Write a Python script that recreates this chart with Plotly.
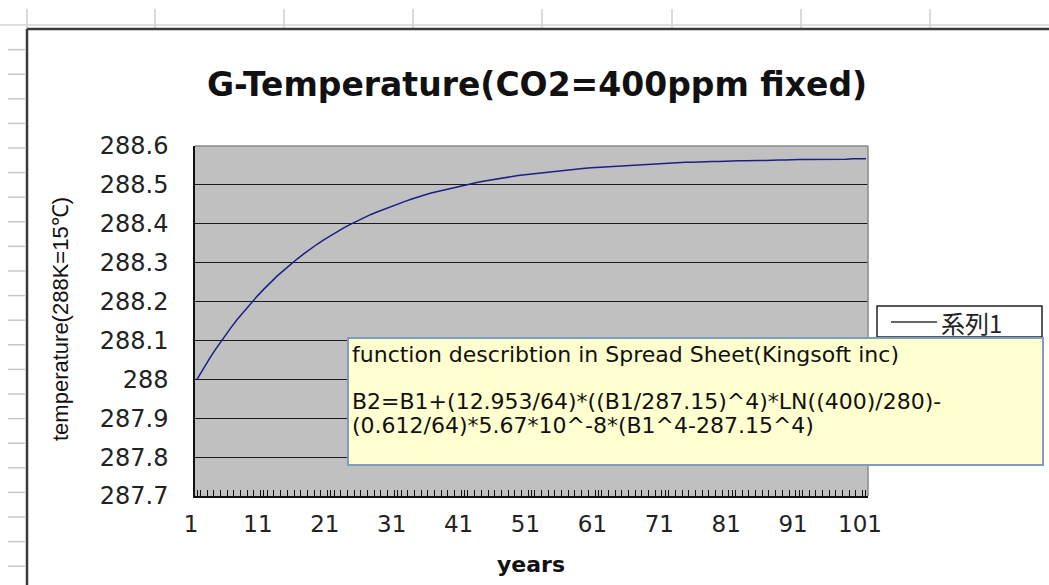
import plotly.graph_objects as go

# ---- data ----
years = list(range(1, 102))
temperature = [
    288.000, 288.029, 288.057, 288.083, 288.108, 288.131, 288.154, 288.175, 288.195, 288.214,
    288.232, 288.250, 288.266, 288.281, 288.296, 288.310, 288.323, 288.336, 288.348, 288.359,
    288.370, 288.380, 288.390, 288.399, 288.408, 288.416, 288.424, 288.431, 288.438, 288.445,
    288.451, 288.457, 288.463, 288.469, 288.474, 288.479, 288.483, 288.488, 288.492, 288.496,
    288.500, 288.503, 288.507, 288.510, 288.513, 288.516, 288.519, 288.521, 288.524, 288.526,
    288.528, 288.530, 288.532, 288.534, 288.536, 288.538, 288.540, 288.541, 288.543, 288.544,
    288.545, 288.547, 288.548, 288.549, 288.550, 288.551, 288.552, 288.553, 288.554, 288.555,
    288.555, 288.556, 288.557, 288.558, 288.558, 288.559, 288.559, 288.560, 288.560, 288.561,
    288.561, 288.562, 288.562, 288.563, 288.563, 288.563, 288.564, 288.564, 288.564, 288.565,
    288.565, 288.565, 288.565, 288.566, 288.566, 288.566, 288.566, 288.566, 288.567, 288.567,
    288.567,
]
x_tick_vals = [1, 11, 21, 31, 41, 51, 61, 71, 81, 91, 101]
y_tick_vals = [287.7, 287.8, 287.9, 288.0, 288.1, 288.2, 288.3, 288.4, 288.5, 288.6]
y_tick_text = ["287.7", "287.8", "287.9", "288", "288.1", "288.2", "288.3", "288.4", "288.5", "288.6"]
series_name = "系列1"
title_text = "G-Temperature(CO2=400ppm fixed)"
x_title = "years"
y_title = "temperature(288K=15℃)"
note_lines = [
    "function describtion in Spread Sheet(Kingsoft inc)",
    "",
    "B2=B1+(12.953/64)*((B1/287.15)^4)*LN((400)/280)-",
    "(0.612/64)*5.67*10^-8*(B1^4-287.15^4)",
]

# ---- layout geometry (pixels) ----
W, H = 1049, 585
L, R, T, B = 195, 868, 146, 496
LINE_COLOR = "#1e1e86"


def px(x):
    return (x - L) / (R - L)


def py(y):
    return (B - y) / (B - T)


fig = go.Figure()
fig.add_trace(go.Scatter(
    x=years, y=temperature, mode="lines", name=series_name, showlegend=False,
    line=dict(color=LINE_COLOR, width=1.5),
))

shapes = []
# spreadsheet cell lines (background)
shapes.append(dict(type="line", xref="paper", yref="paper", x0=px(0), x1=px(W), y0=py(25), y1=py(25),
                   line=dict(color="#d4d4d4", width=1.5), layer="below"))
for cx in [27, 155, 284, 413, 542, 672, 801, 930]:
    shapes.append(dict(type="line", xref="paper", yref="paper", x0=px(cx), x1=px(cx), y0=py(9), y1=py(29),
                       line=dict(color="#cfcfcf", width=1.5), layer="below"))
for k in range(-4, 18):
    ry = 148 + 24.6 * k
    shapes.append(dict(type="line", xref="paper", yref="paper", x0=px(8), x1=px(25), y0=py(ry), y1=py(ry),
                       line=dict(color="#c8c8c8", width=1.5), layer="below"))
# chart frame
shapes.append(dict(type="line", xref="paper", yref="paper", x0=px(27), x1=px(W + 10), y0=py(29), y1=py(29),
                   line=dict(color="#3a3a3a", width=2.5), layer="below"))
shapes.append(dict(type="line", xref="paper", yref="paper", x0=px(27), x1=px(27), y0=py(29), y1=py(H + 10),
                   line=dict(color="#3a3a3a", width=2.5), layer="below"))
# gray top/right border of plot area
shapes.append(dict(type="line", xref="paper", yref="paper", x0=0, x1=1, y0=1, y1=1,
                   line=dict(color="#8a8a8a", width=1.5), layer="above"))
shapes.append(dict(type="line", xref="paper", yref="paper", x0=1, x1=1, y0=0, y1=1,
                   line=dict(color="#8a8a8a", width=1.5), layer="above"))
# legend box (Excel style)
shapes.append(dict(type="rect", xref="paper", yref="paper", x0=px(877), x1=px(1042), y0=py(306), y1=py(337),
                   fillcolor="white", line=dict(color="#222222", width=1.5), layer="above"))
shapes.append(dict(type="line", xref="paper", yref="paper", x0=px(891), x1=px(937), y0=py(322), y1=py(322),
                   line=dict(color="#333344", width=1.5), layer="above"))
# yellow note box
shapes.append(dict(type="rect", xref="paper", yref="paper", x0=px(348), x1=px(1043), y0=py(338), y1=py(465),
                   fillcolor="#ffffcf", line=dict(color="#7d9dc2", width=2), layer="above"))

annotations = [
    dict(text="<b>" + title_text + "</b>", xref="paper", yref="paper", x=px(537), y=py(85),
         xanchor="center", yanchor="middle", showarrow=False,
         font=dict(family="DejaVu Sans", size=33, color="#111111")),
    dict(text="<b>" + x_title + "</b>", xref="paper", yref="paper", x=px(531), y=py(564),
         xanchor="center", yanchor="middle", showarrow=False,
         font=dict(family="DejaVu Sans", size=22, color="#111111")),
    dict(text=y_title, xref="paper", yref="paper", x=px(60), y=py(319), textangle=-90,
         xanchor="center", yanchor="middle", showarrow=False,
         font=dict(family="Liberation Sans", size=22, color="#111111")),
    dict(text=series_name, xref="paper", yref="paper", x=px(939), y=py(322),
         xanchor="left", yanchor="middle", showarrow=False,
         font=dict(family="Noto Sans CJK JP", size=24, color="#222222")),
]
note_y = [354, 377, 401, 425]
for line_text, ly in zip(note_lines, note_y):
    if line_text:
        annotations.append(dict(text=line_text, xref="paper", yref="paper", x=px(350), y=py(ly),
                                xanchor="left", yanchor="middle", showarrow=False,
                                font=dict(family="DejaVu Sans", size=22, color="#111111")))

fig.update_layout(
    width=W, height=H,
    margin=dict(l=L, r=W - R, t=T, b=H - B, pad=0),
    paper_bgcolor="white", plot_bgcolor="#c0c0c0",
    showlegend=False,
    shapes=shapes,
    annotations=annotations,
    xaxis=dict(range=[0.7, 101.3], tickmode="array", tickvals=x_tick_vals,
               showgrid=False, zeroline=False, showline=True, linecolor="#111111", linewidth=1.5,
               ticks="inside", ticklen=6, tickcolor="#111111", tickwidth=1,
               minor=dict(ticks="inside", tickmode="linear", tick0=0.5, dtick=1, ticklen=6,
                          tickcolor="#111111", tickwidth=1, showgrid=False),
               ticklabelstandoff=7, ticklabelshift=-6,
               tickfont=dict(family="DejaVu Sans", size=23, color="#222222")),
    yaxis=dict(range=[287.7, 288.6], tickmode="array", tickvals=y_tick_vals, ticktext=y_tick_text,
               showgrid=True, gridcolor="#1a1a1a", gridwidth=1.3, zeroline=False,
               showline=True, linecolor="#111111", linewidth=1.5, ticks="",
               ticklabelstandoff=20,
               tickfont=dict(family="DejaVu Sans", size=24, color="#222222")),
)

fig.write_html("out.html", config={"displayModeBar": False},
               post_script="document.body.style.margin='0px';")
